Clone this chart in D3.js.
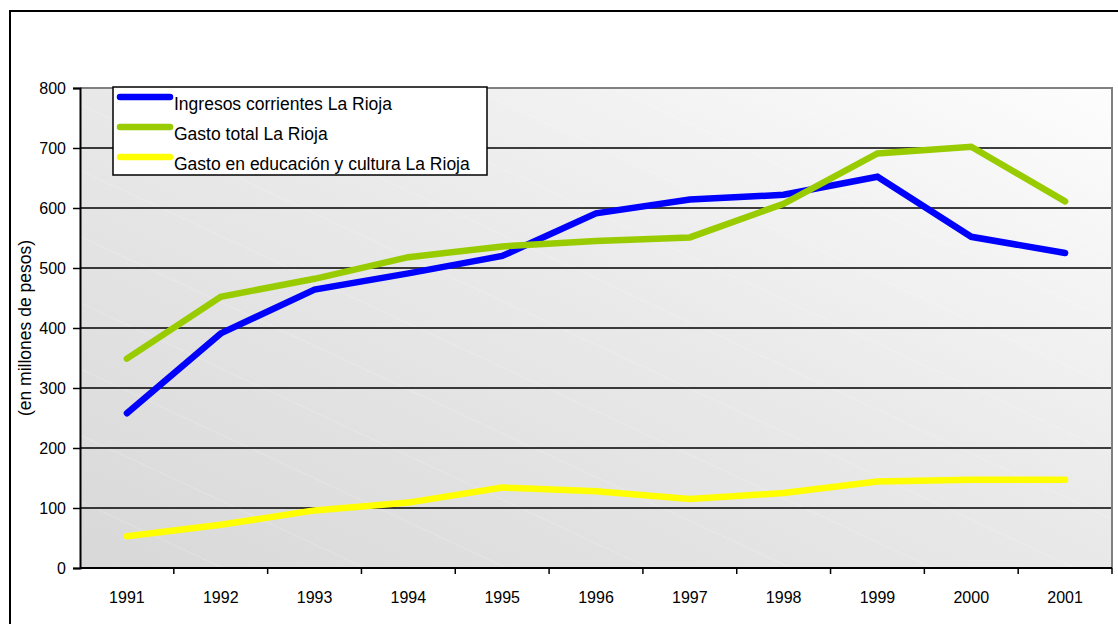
<!DOCTYPE html>
<html>
<head>
<meta charset="utf-8">
<script src="https://cdn.jsdelivr.net/npm/d3@7"></script>
<style>
  html, body { margin: 0; padding: 0; background: #ffffff; }
  svg { display: block; }
  text { font-family: "Liberation Sans", Arial, sans-serif; fill: #000; }
</style>
</head>
<body>
<svg id="chart" width="1118" height="624"></svg>
<script>
// Years on the horizontal axis
const years = ["1991", "1992", "1993", "1994", "1995", "1996", "1997", "1998", "1999", "2000", "2001"];

// Series values (millions of pesos)
const ingresosCorrientes = [258, 391, 464, 491, 520, 591, 614, 622, 652, 552, 525];
const gastoTotal         = [349, 452, 482, 518, 536, 545, 551, 607, 691, 702, 611];
const gastoEducacion     = [53, 72, 96, 109, 134, 128, 115, 125, 144, 147, 147];

const seriesNames  = ["Ingresos corrientes La Rioja", "Gasto total La Rioja", "Gasto en educación y cultura La Rioja"];
const seriesColors = ["#0000ff", "#99cc00", "#ffff00"];

// Value axis ticks
const yTicks = [0, 100, 200, 300, 400, 500, 600, 700, 800];
const yTitle = "(en millones de pesos)";

const series = [ingresosCorrientes, gastoTotal, gastoEducacion].map((values, i) => ({
  name: seriesNames[i],
  color: seriesColors[i],
  values
}));

const svg = d3.select("#chart");

// Outer frame of the chart
svg.append("rect")
  .attr("x", 10).attr("y", 11)
  .attr("width", 1130).attr("height", 640)
  .attr("fill", "#ffffff")
  .attr("stroke", "#000").attr("stroke-width", 2);

const plot = { left: 80, top: 88, right: 1112, bottom: 568 };

const x = d3.scaleBand()
  .domain(years)
  .range([plot.left, plot.right])
  .padding(0);

const y = d3.scaleLinear()
  .domain([0, 800])
  .range([plot.bottom, plot.top]);

// Plot background: diagonal grey gradient with faint hatch lines
const defs = svg.append("defs");
const grad = defs.append("linearGradient")
  .attr("id", "bg")
  .attr("x1", "0").attr("y1", "1")
  .attr("x2", "1").attr("y2", "0");
grad.append("stop").attr("offset", "0").attr("stop-color", "#d8d8d8");
grad.append("stop").attr("offset", "0.55").attr("stop-color", "#eaeaea");
grad.append("stop").attr("offset", "1").attr("stop-color", "#fdfdfd");

const hatch = defs.append("pattern")
  .attr("id", "hatch")
  .attr("patternUnits", "userSpaceOnUse")
  .attr("width", 60).attr("height", 60)
  .attr("patternTransform", "rotate(25)");
hatch.append("line")
  .attr("x1", 0).attr("y1", 0).attr("x2", 60).attr("y2", 0)
  .attr("stroke", "#ffffff").attr("stroke-opacity", 0.35).attr("stroke-width", 1);

svg.append("rect")
  .attr("x", plot.left).attr("y", plot.top)
  .attr("width", plot.right - plot.left).attr("height", plot.bottom - plot.top)
  .attr("fill", "url(#bg)");
svg.append("rect")
  .attr("x", plot.left).attr("y", plot.top)
  .attr("width", plot.right - plot.left).attr("height", plot.bottom - plot.top)
  .attr("fill", "url(#hatch)");

// Horizontal gridlines
svg.append("g")
  .selectAll("line")
  .data(yTicks.filter(v => v > 0 && v < 800))
  .join("line")
  .attr("x1", plot.left).attr("x2", plot.right)
  .attr("y1", d => y(d)).attr("y2", d => y(d))
  .attr("stroke", "#000").attr("stroke-width", 1.3);

// Plot border (grey top and right edges)
svg.append("path")
  .attr("d", `M${plot.left},${plot.top}H${plot.right}V${plot.bottom}`)
  .attr("fill", "none")
  .attr("stroke", "#808080").attr("stroke-width", 2);

// Y axis
const yAxis = svg.append("g")
  .attr("transform", `translate(${plot.left},0)`)
  .call(d3.axisLeft(y).tickValues(yTicks).tickSize(7).tickPadding(7).tickFormat(d3.format("d")));
yAxis.select(".domain").attr("stroke", "#000").attr("stroke-width", 2);
yAxis.selectAll(".tick line").attr("stroke", "#000").attr("stroke-width", 1.5);
yAxis.selectAll(".tick text")
  .attr("font-size", 16)
  .attr("font-family", "Liberation Sans, Arial, sans-serif")
  .attr("fill", "#000");

// X axis with ticks between categories
const xAxis = svg.append("g")
  .attr("transform", `translate(0,${plot.bottom})`)
  .call(d3.axisBottom(x).tickSize(0).tickPadding(24));
xAxis.select(".domain").remove();
xAxis.selectAll(".tick text")
  .attr("font-size", 16)
  .attr("font-family", "Liberation Sans, Arial, sans-serif")
  .attr("fill", "#000");
xAxis.append("line")
  .attr("x1", plot.left).attr("x2", plot.right)
  .attr("y1", 0).attr("y2", 0)
  .attr("stroke", "#000").attr("stroke-width", 2);
xAxis.selectAll(".sep")
  .data(years.slice(1).concat(["end"]))
  .join("line")
  .attr("class", "sep")
  .attr("x1", (d, i) => i < years.length - 1 ? x(d) : plot.right)
  .attr("x2", (d, i) => i < years.length - 1 ? x(d) : plot.right)
  .attr("y1", 0).attr("y2", 6)
  .attr("stroke", "#000").attr("stroke-width", 1.5);

// Y axis title
svg.append("text")
  .attr("transform", `translate(31,${(plot.top + plot.bottom) / 2}) rotate(-90)`)
  .attr("text-anchor", "middle")
  .attr("font-size", 17.5)
  .text(yTitle);

// Series lines
const line = d3.line()
  .x((d, i) => x(years[i]) + x.bandwidth() / 2)
  .y(d => y(d));

svg.append("g")
  .selectAll("path")
  .data(series)
  .join("path")
  .attr("d", d => line(d.values))
  .attr("fill", "none")
  .attr("stroke", d => d.color)
  .attr("stroke-width", 6.5)
  .attr("stroke-linecap", "round")
  .attr("stroke-linejoin", "miter");

// Legend
const legend = svg.append("g");
legend.append("rect")
  .attr("x", 113).attr("y", 87)
  .attr("width", 374).attr("height", 88)
  .attr("fill", "#ffffff")
  .attr("stroke", "#000").attr("stroke-width", 1.5);

const rows = legend.selectAll(".row")
  .data(series)
  .join("g")
  .attr("class", "row")
  .attr("transform", (d, i) => `translate(0,${97 + i * 30})`);
rows.append("line")
  .attr("x1", 120).attr("x2", 170)
  .attr("y1", 0).attr("y2", 0)
  .attr("stroke", d => d.color)
  .attr("stroke-width", 6.5)
  .attr("stroke-linecap", "round");
rows.append("text")
  .attr("x", 174).attr("y", 13)
  .attr("font-size", 17.5)
  .text(d => d.name);
</script>
</body>
</html>
